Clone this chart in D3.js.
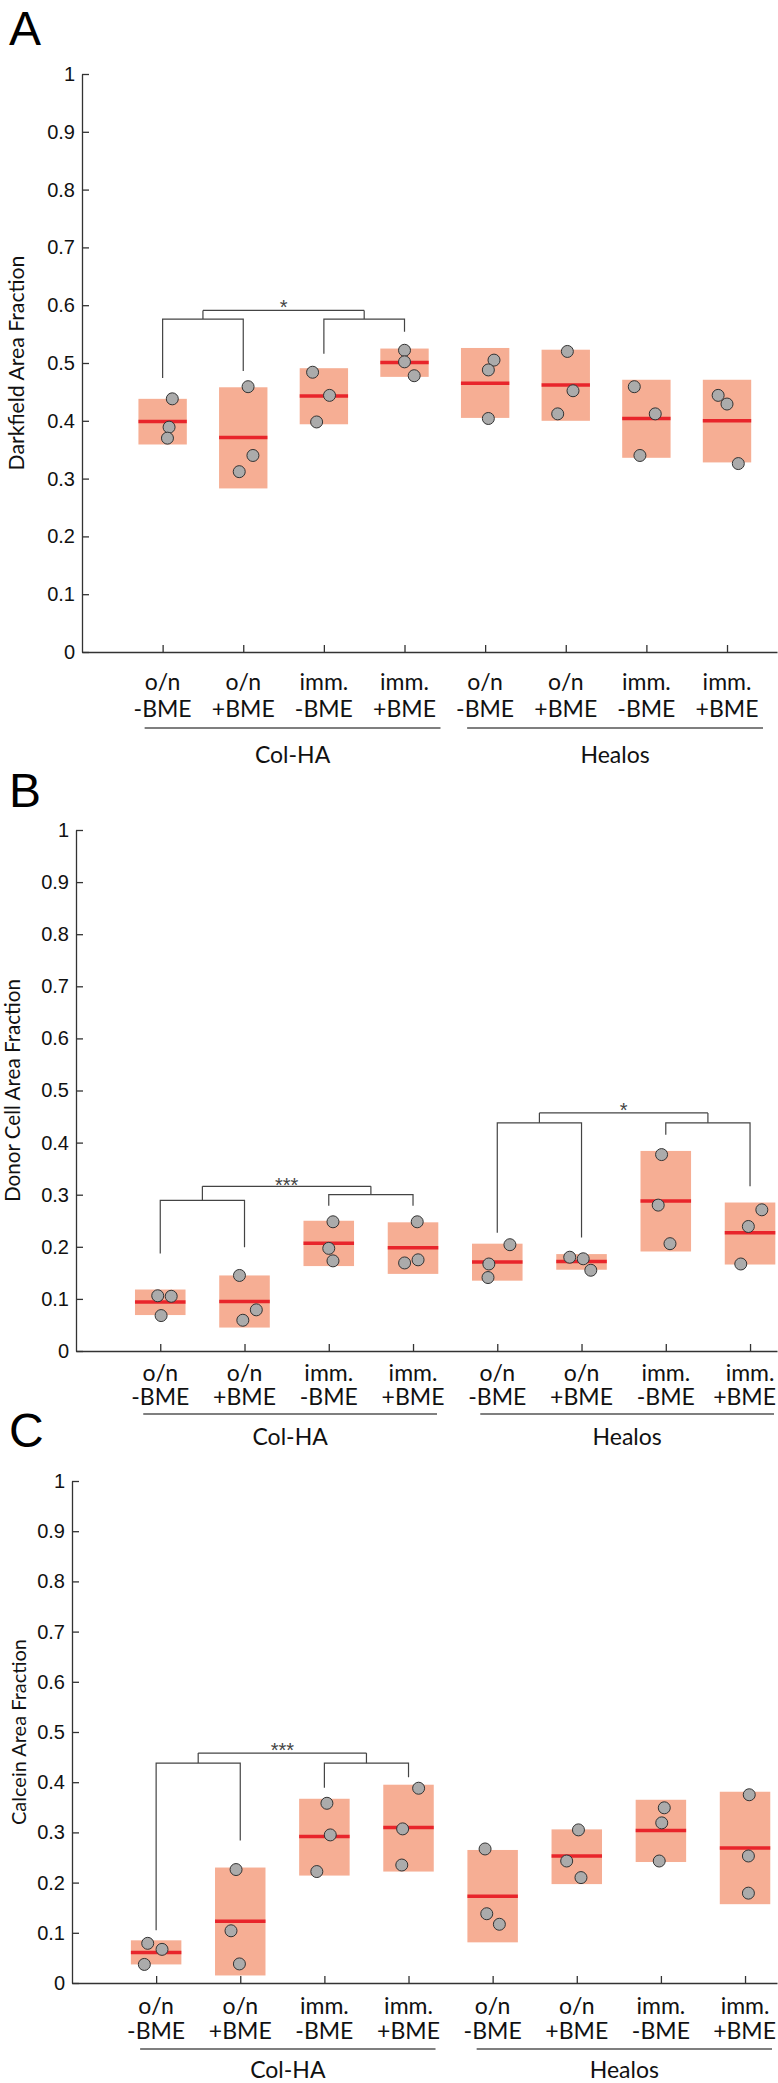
<!DOCTYPE html>
<html><head><meta charset="utf-8">
<script src="https://cdn.jsdelivr.net/npm/d3@7"></script>
<style>body{margin:0;background:#fff}svg{display:block}</style>
</head><body>
<svg id="fig" width="778" height="2083"></svg>
<script>
// ---------- shared categories / ticks ----------
const catLine1 = ["o/n","o/n","imm.","imm.","o/n","o/n","imm.","imm."];
const catLine2 = ["-BME","+BME","-BME","+BME","-BME","+BME","-BME","+BME"];
const groupNames = ["Col-HA","Healos"];
const yTickValues = [0,0.1,0.2,0.3,0.4,0.5,0.6,0.7,0.8,0.9,1];
const yTickLabels = ["0","0.1","0.2","0.3","0.4","0.5","0.6","0.7","0.8","0.9","1"];

// ---------- Panel A: Darkfield ----------
const darkfieldMedian = [0.399,0.371,0.443,0.501,0.465,0.462,0.404,0.400];
const darkfieldLow    = [0.359,0.283,0.394,0.476,0.405,0.400,0.336,0.328];
const darkfieldHigh   = [0.438,0.458,0.491,0.525,0.526,0.523,0.471,0.471];
const darkfieldPoints = [[0.438,0.389,0.370],[0.459,0.340,0.312],[0.484,0.444,0.398],[0.522,0.502,0.478],
                         [0.505,0.488,0.404],[0.520,0.452,0.412],[0.459,0.412,0.340],[0.444,0.429,0.326]];
const darkfieldJitter = [[0.12,0.08,0.06],[0.06,0.12,-0.05],[-0.14,0.07,-0.09],[0.0,0.0,0.12],
                         [0.11,0.04,0.04],[0.02,0.09,-0.10],[-0.15,0.11,-0.08],[-0.11,0.0,0.14]];
const darkfieldBracket = {pairs:[[1,2],[3,4]], legs:[[0.474,0.486],[0.516,0.554]], sub:0.576, top:0.591, label:"*", labelAt:0.603};

// ---------- Panel B: Donor cell ----------
const donorMedian = [0.094,0.095,0.207,0.198,0.171,0.172,0.288,0.227];
const donorLow    = [0.069,0.045,0.163,0.148,0.135,0.156,0.191,0.166];
const donorHigh   = [0.118,0.145,0.250,0.247,0.206,0.186,0.384,0.285];
const donorPoints = [[0.106,0.105,0.068],[0.145,0.079,0.059],[0.248,0.197,0.173],[0.248,0.175,0.169],
                     [0.204,0.167,0.141],[0.180,0.177,0.155],[0.377,0.280,0.206],[0.271,0.239,0.167]];
const donorJitter = [[-0.03,0.13,0.01],[-0.06,0.14,-0.02],[0.05,0.0,0.05],[0.05,0.06,-0.10],
                     [0.15,-0.10,-0.11],[-0.14,0.02,0.11],[-0.05,-0.09,0.05],[0.14,-0.02,-0.11]];
const donorBrackets = [
  {pairs:[[1,2],[3,4]], legs:[[0.187,0.199],[0.279,0.279]], sub:[0.289,0.300], top:0.316, label:"***", labelAt:0.326},
  {pairs:[[5,6],[7,8]], legs:[[0.227,0.218],[0.415,0.316]], sub:[0.438,0.438], top:0.457, label:"*", labelAt:0.470}
];

// ---------- Panel C: Calcein ----------
const calceinMedian = [0.061,0.123,0.292,0.310,0.173,0.253,0.304,0.269];
const calceinLow    = [0.037,0.015,0.214,0.222,0.081,0.197,0.241,0.157];
const calceinHigh   = [0.085,0.230,0.367,0.395,0.265,0.306,0.365,0.381];
const calceinPoints = [[0.079,0.067,0.037],[0.226,0.104,0.038],[0.358,0.295,0.222],[0.388,0.307,0.235],
                       [0.267,0.138,0.117],[0.305,0.243,0.210],[0.349,0.319,0.243],[0.375,0.253,0.179]];
const calceinJitter = [[-0.10,0.07,-0.14],[-0.05,-0.11,-0.01],[0.03,0.07,-0.09],[0.12,-0.07,-0.08],
                       [-0.09,-0.07,0.08],[0.02,-0.12,0.05],[0.04,0.01,-0.02],[0.05,0.04,0.04]];
const calceinBracket = {pairs:[[1,2],[3,4]], legs:[[0.105,0.284],[0.389,0.410]], sub:0.438, top:0.458, label:"***", labelAt:0.473};

// ---------- styles ----------
const AXIS = "#333", BOX = "#F6AE94", MED = "#E8252B", DOT = "#ABABAB", BR = "#444";
const numFont = "'Liberation Sans', Arial, Helvetica, sans-serif";
const txtFont = "Lato, 'Open Sans', sans-serif";
const W = 778;

const svg = d3.select("#fig");

function drawPanel(cfg, d) {
  const g = svg.append("g");
  const y = d3.scaleLinear().domain([0,1]).range([cfg.y0, cfg.y1]);
  const x = d3.scaleLinear().domain([0, cfg.xEnd]).range([cfg.axisX, W - 1]);
  const step = x(1) - x(0);
  const idx = d3.range(1, 9);

  // panel letter
  g.append("text").attr("x", 9).attr("y", cfg.letterY).text(cfg.letter)
    .attr("font-family", numFont).attr("font-size", 48).attr("fill", "#000");

  // axes
  const ya = g.append("g").attr("transform", `translate(${cfg.axisX},0)`)
    .call(d3.axisLeft(y).tickValues(yTickValues).tickFormat((v,i)=>yTickLabels[i])
      .tickSizeInner(-7).tickSizeOuter(0).tickPadding(7));
  const xa = g.append("g").attr("transform", `translate(0,${cfg.y0})`)
    .call(d3.axisBottom(x).tickValues(idx).tickFormat("").tickSizeInner(-7).tickSizeOuter(0));
  [ya, xa].forEach(a => {
    a.select(".domain").attr("stroke", AXIS).attr("stroke-width", 1.3);
    a.selectAll(".tick line").attr("stroke", AXIS).attr("stroke-width", 1.3);
  });
  ya.selectAll(".tick text").attr("font-family", numFont).attr("font-size", 20).attr("fill", "#111");

  // y title, sized to the reference length
  const t = g.append("text")
    .attr("transform", `translate(${cfg.titleX},${(cfg.y0+cfg.y1)/2}) rotate(-90)`)
    .attr("text-anchor", "middle").attr("font-family", txtFont).attr("font-size", 20)
    .attr("fill", "#111").text(cfg.title);
  const tl = t.node().getComputedTextLength();
  if (tl > 0) t.attr("font-size", 20 * cfg.titleLen / tl);

  // category labels (kept inside the picture)
  function catRow(arr, yy) {
    g.selectAll(null).data(arr).join("text")
      .attr("x", (s,i)=>x(i+1)).attr("y", yy).attr("text-anchor","middle")
      .attr("font-family", txtFont).attr("font-size", 23).attr("fill","#111").text(s=>s)
      .each(function(s,i){
        const w = this.getComputedTextLength();
        const cx = x(i+1);
        if (cx + w/2 > W - 2) d3.select(this).attr("x", W - 2 - w/2);
      });
  }
  catRow(catLine1, cfg.lab1);
  catRow(catLine2, cfg.lab2);

  // group lines and names
  groupNames.forEach((name, k) => {
    const a = x(1 + 4*k) + cfg.gl[0], b = Math.min(x(4 + 4*k) + cfg.gl[1], W - 3);
    g.append("line").attr("x1", a).attr("x2", b).attr("y1", cfg.lineY).attr("y2", cfg.lineY)
      .attr("stroke", "#555").attr("stroke-width", 1.4);
    g.append("text").attr("x", (a+b)/2).attr("y", cfg.grpY).attr("text-anchor","middle")
      .attr("font-family", txtFont).attr("font-size", 23).attr("fill","#111").text(name);
  });

  // boxes
  g.selectAll(".box").data(d.median).join("rect")
    .attr("x", (m,i)=>x(i+1) - 0.3*step).attr("width", 0.6*step)
    .attr("y", (m,i)=>y(d.high[i])).attr("height", (m,i)=>y(d.low[i]) - y(d.high[i]))
    .attr("fill", BOX);
  g.selectAll(".med").data(d.median).join("line")
    .attr("x1", (m,i)=>x(i+1) - 0.3*step).attr("x2", (m,i)=>x(i+1) + 0.3*step)
    .attr("y1", m=>y(m)).attr("y2", m=>y(m)).attr("stroke", MED).attr("stroke-width", 3.5);
  const pts = [];
  d.points.forEach((arr,i)=>arr.forEach((v,j)=>pts.push({x:i+1+d.jitter[i][j], v})));
  g.selectAll(".pt").data(pts).join("circle")
    .attr("cx", p=>x(p.x)).attr("cy", p=>y(p.v)).attr("r", 6)
    .attr("fill", DOT).attr("stroke", "#333").attr("stroke-width", 1);

  // brackets
  d.brackets.forEach(b => {
    const subs = Array.isArray(b.sub) ? b.sub : [b.sub, b.sub];
    const mids = b.pairs.map((p, k) => {
      const xa = x(p[0]), xb = x(p[1]), ys = y(subs[k]);
      g.append("path").attr("d", `M${xa},${y(b.legs[k][0])}V${ys}H${xb}V${y(b.legs[k][1])}`)
        .attr("fill","none").attr("stroke", BR).attr("stroke-width", 1.2);
      const m = (xa+xb)/2;
      g.append("path").attr("d", `M${m},${ys}V${y(b.top)}`)
        .attr("fill","none").attr("stroke", BR).attr("stroke-width", 1.2);
      return m;
    });
    g.append("path").attr("d", `M${mids[0]},${y(b.top)}H${mids[1]}`)
      .attr("fill","none").attr("stroke", BR).attr("stroke-width", 1.2);
    g.append("text").attr("x", (mids[0]+mids[1])/2).attr("y", y(b.labelAt) + 11)
      .attr("text-anchor","middle").attr("font-family", numFont).attr("font-size", 20)
      .attr("fill", "#444").text(b.label);
  });
}

drawPanel({letter:"A", letterY:45, axisX:82, xEnd:8.62, y0:652, y1:74, titleX:24, titleLen:215,
  title:"Darkfield Area Fraction", lab1:690, lab2:717, lineY:728, grpY:763, gl:[-18,36]},
  {median:darkfieldMedian, low:darkfieldLow, high:darkfieldHigh, points:darkfieldPoints,
   jitter:darkfieldJitter, brackets:[darkfieldBracket]});

drawPanel({letter:"B", letterY:807, axisX:76, xEnd:8.32, y0:1351, y1:830, titleX:20, titleLen:223,
  title:"Donor Cell Area Fraction", lab1:1381, lab2:1405, lineY:1414, grpY:1445, gl:[-17,24]},
  {median:donorMedian, low:donorLow, high:donorHigh, points:donorPoints,
   jitter:donorJitter, brackets:donorBrackets});

drawPanel({letter:"C", letterY:1447, axisX:72, xEnd:8.38, y0:1983, y1:1481, titleX:26, titleLen:186,
  title:"Calcein Area Fraction", lab1:2014, lab2:2039, lineY:2049, grpY:2078, gl:[-16,27]},
  {median:calceinMedian, low:calceinLow, high:calceinHigh, points:calceinPoints,
   jitter:calceinJitter, brackets:[calceinBracket]});
</script>
</body></html>
